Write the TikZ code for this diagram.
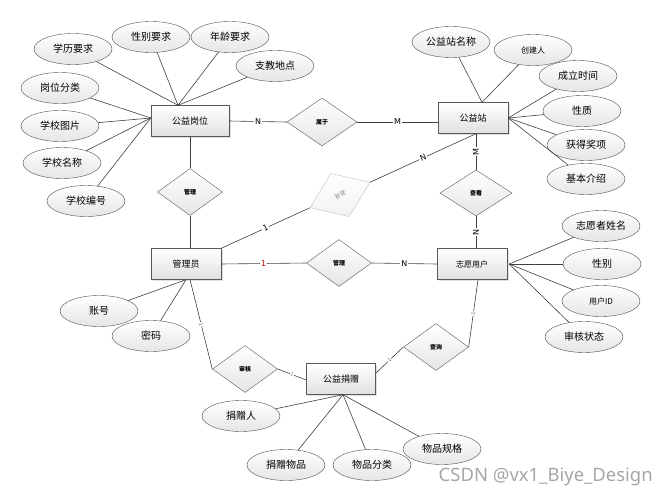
\documentclass[tikz,border=0pt]{standalone}
\usepackage{fontspec}
\setmainfont{Noto Sans CJK SC}
\newfontfamily\latin{DejaVu Sans}
\newfontfamily\wmfont{Noto Sans}
\usetikzlibrary{shapes.geometric,shadows}
\begin{document}
\begin{tikzpicture}[x=1pt,y=-1pt,
 ent/.style={draw=black!65, rectangle, minimum width=70pt, minimum height=31pt, inner sep=0pt, top color=white, bottom color=black!12, drop shadow={shadow xshift=1.5pt, shadow yshift=-1.5pt, opacity=0.25}, font=\fontsize{9}{10}\selectfont},
 attr/.style={draw=black!70, ellipse, minimum width=78pt, minimum height=31pt, inner sep=0pt, top color=white, bottom color=black!10, font=\fontsize{10}{12}\selectfont},
 rel/.style={draw=black!65, diamond, minimum width=65pt, minimum height=47pt, inner sep=0pt, top color=white, bottom color=black!10, font=\fontsize{6}{7}\selectfont\bfseries},
 ln/.style={draw=black!75, line width=0.6pt},
 lbl/.style={fill=white, inner sep=1pt, font=\latin\fontsize{8}{9}\selectfont},
 lbltiny/.style={fill=white, inner sep=0.5pt, text=black!55, font=\latin\fontsize{5}{5}\selectfont}
]
\useasboundingbox (0,0) rectangle (669,495);
% entities
\node[ent, minimum width=78pt] (gyg) at (190,121) {公益岗位};
\node[ent] (gyz) at (473,118) {公益站};
\node[ent] (gly) at (186,264) {管理员};
\node[ent, font=\fontsize{8}{9}\selectfont] (zyy) at (472,264) {志愿用户};
\node[ent, minimum width=69pt] (gyjz) at (341,379) {公益捐赠};
% relationships
\node[rel, minimum width=70pt, minimum height=48pt] (sy) at (322,122) {属于};
\node[rel] (gla) at (190,192) {管理};
\node[rel, draw=black!25, rotate=23, text=black!45, bottom color=black!5, font=\fontsize{5.5}{6}\selectfont] (glb) at (340,195) {管理};
\node[rel, minimum width=72pt, minimum height=46pt] (zg) at (476,193) {查看};
\node[rel] (glc) at (339,263) {管理};
\node[rel] (sh) at (245,369) {审核};
\node[rel] (cx) at (436,347) {查询};
% attributes of 公益岗位
\node[attr] (xl) at (73,49) {学历要求};
\node[attr] (xbyq) at (151,37) {性别要求};
\node[attr] (nl) at (230,37) {年龄要求};
\node[attr] (zj) at (275,66) {支教地点};
\node[attr] (gwfl) at (60,88) {岗位分类};
\node[attr] (xxtp) at (60,126) {学校图片};
\node[attr] (xxmc) at (62,163) {学校名称};
\node[attr] (xxbh) at (86,201) {学校编号};
% attributes of 公益站
\node[attr] (gyzmc) at (451,42) {公益站名称};
\node[attr, font=\fontsize{8}{10}\selectfont] (cjr) at (533,50) {创建人};
\node[attr] (clsj) at (578,76) {成立时间};
\node[attr] (xz) at (582,111) {性质};
\node[attr] (hdjx) at (586,145) {获得奖项};
\node[attr] (jbjs) at (586,179) {基本介绍};
% attributes of 志愿用户
\node[attr] (zyzxm) at (601,226) {志愿者姓名};
\node[attr] (xb) at (602,264) {性别};
\node[attr, font=\fontsize{8}{10}\selectfont] (yhid) at (601,301) {用户ID};
\node[attr] (shzt) at (584,337) {审核状态};
% attributes of 管理员
\node[attr] (zh) at (99,311) {账号};
\node[attr] (mm) at (151,336) {密码};
% attributes of 公益捐赠
\node[attr] (jzr) at (241,416) {捐赠人};
\node[attr] (jzwp) at (286,465) {捐赠物品};
\node[attr] (wpfl) at (372,465) {物品分类};
\node[attr] (wpgg) at (442,449) {物品规格};
% watermark
\node[text=black!35, font=\wmfont\fontsize{18.5}{20}\selectfont, anchor=south east, inner sep=0pt] (wm) at (653,486) {CSDN @vx1\_Biye\_Design};
% attribute lines
\foreach \a in {xl,xbyq,nl,zj} \draw[ln] (\a) -- ([xshift=-12pt]gyg.north);
\foreach \a in {gwfl,xxtp,xxmc,xxbh} \draw[ln] (\a) -- ([yshift=3pt]gyg.west);
\foreach \a in {gyzmc,cjr} \draw[ln] (\a) -- ([xshift=9pt]gyz.north);
\foreach \a in {clsj,xz,hdjx,jbjs} \draw[ln] (\a) -- (gyz.east);
\foreach \a in {zyzxm,xb,yhid,shzt} \draw[ln] (\a) -- ([xshift=2pt]zyy.east);
\foreach \a in {zh,mm} \draw[ln] (\a) -- (gly.south);
\foreach \a in {jzr,jzwp,wpfl,wpgg} \draw[ln] (\a) -- ([xshift=2pt]gyjz.south);
% relationship lines
\draw[ln] (gyg.east) -- node[lbl]{N} (sy.west);
\draw[ln] (sy.east) -- node[lbl]{M} (sy.east -| gyz.west);
\draw[ln] (gyg.south) -- (gla.north);
\draw[ln] (gla.south) -- (gla.south |- gly.north);
\draw[ln] (gly.north east) -- node[lbl, sloped]{1} (glb.west);
\draw[ln] (glb.east) -- node[lbl, sloped]{N} ([xshift=3pt]gyz.south);
\draw[ln] ([xshift=3pt]gyz.south) -- node[lbl, rotate=90]{M} (zg.north);
\draw[ln] (zg.south) -- node[lbl, rotate=90]{N} (zg.south |- zyy.north);
\draw[ln] (gly.east) -- node[lbl, text=red!75!black]{1} (glc.west);
\draw[ln] (glc.east) -- node[lbl]{N} (zyy.west);
\draw[ln] ([xshift=4pt]gly.south) -- node[lbltiny, sloped]{1} (sh.west);
\draw[ln] (sh.east) -- node[lbltiny, sloped]{1} ([yshift=-1pt]gyjz.west);
\draw[ln] ([xshift=6pt]zyy.south) -- node[lbltiny, sloped]{1} (cx.east);
\draw[ln] (cx.west) -- node[lbltiny, sloped]{1} ([yshift=-10pt]gyjz.north east);
\end{tikzpicture}
\end{document}
